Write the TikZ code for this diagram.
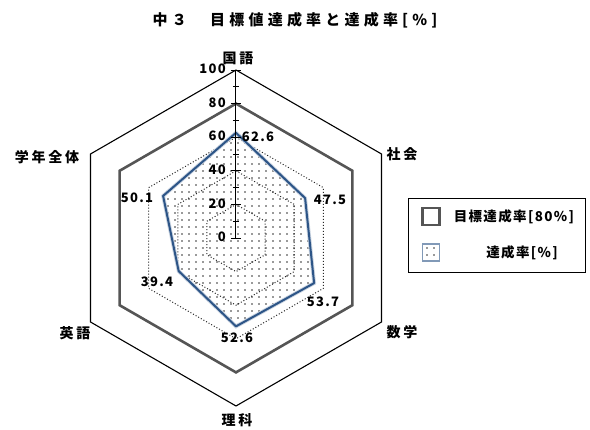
\documentclass[tikz,border=0pt]{standalone}
\usepackage{fontspec}
\setmainfont{Noto Sans CJK JP}
\newfontfamily\labelfont[LetterSpace=10]{Noto Sans CJK JP}
\newfontfamily\subjectfont[LetterSpace=20]{Noto Sans CJK JP}
\newfontfamily\titlefont[LetterSpace=28]{Noto Sans CJK JP}
\usetikzlibrary{positioning,patterns.meta}
\definecolor{targetgray}{RGB}{85,85,85}
\definecolor{rateblue}{RGB}{45,85,135}

\begin{document}
\begin{tikzpicture}[x=1pt, y=1pt,
        ring/.style={line width=1pt, dotted, black!85},
        outer/.style={line width=1.1pt},
        target/.style={line width=2.6pt, draw=targetgray},
        halo/.style={line width=3.8pt, draw=rateblue!25},
        rate/.style={line width=2pt, draw=rateblue, line join=round},
        dotfill/.style={pattern={Dots[distance=7pt, radius=0.85pt]}, pattern color=black!80},
        subject/.style={font=\subjectfont\bfseries\fontsize{14}{14}\selectfont, inner sep=1pt},
        value/.style={font=\labelfont\bfseries\fontsize{13}{13}\selectfont, inner sep=1pt},
        keytext/.style={font=\labelfont\bfseries\fontsize{13.5}{14}\selectfont, inner sep=1pt},
        keybox/.style={minimum size=17pt, inner sep=0pt}]
    \useasboundingbox (-236,-192) rectangle (354,238);
    \def\R{1.68}
    % data points
    \foreach \a/\v [count=\i] in {90/62.6, 30/47.5, -30/53.7, -90/52.6, -150/39.4, 150/50.1}
        \coordinate (p\i) at (\a:{\v*\R});
    \coordinate (c) at (0,0);
    % filled rate polygon
    \fill[dotfill] (p1) -- (p2) -- (p3) -- (p4) -- (p5) -- (p6) -- cycle;
    % grid rings
    \foreach \r in {20,40,60}
        \draw[ring] (90:{\r*\R}) -- (30:{\r*\R}) -- (-30:{\r*\R}) -- (-90:{\r*\R})
                    -- (-150:{\r*\R}) -- (150:{\r*\R}) -- cycle;
    \draw[target] (90:{80*\R}) -- (30:{80*\R}) -- (-30:{80*\R}) -- (-90:{80*\R})
                  -- (-150:{80*\R}) -- (150:{80*\R}) -- cycle;
    \draw[outer] (90:{100*\R}) -- (30:{100*\R}) -- (-30:{100*\R}) -- (-90:{100*\R})
                 -- (-150:{100*\R}) -- (150:{100*\R}) -- cycle;
    % rate line
    \draw[halo] (p1) -- (p2) -- (p3) -- (p4) -- (p5) -- (p6) -- cycle;
    \draw[rate] (p1) -- (p2) -- (p3) -- (p4) -- (p5) -- (p6) -- cycle;
    % axis with ticks
    \coordinate (top) at (0,{100*\R});
    \draw[line width=1pt] (c) -- (top);
    \foreach \t in {10,30,...,90}
        \draw[line width=0.8pt] (-3,{\t*\R}) -- (3,{\t*\R});
    \foreach \t in {0,20,...,100} {
        \draw[line width=0.9pt] (-5,{\t*\R}) -- (5,{\t*\R});
        \node[value, anchor=east] (scale\t) at (-9,{\t*\R+1}) {\t};
    }
    % subjects
    \node[subject] (kokugo) at (2,180) {国語};
    \node[subject] (shakai) at (166,84) {社会};
    \node[subject] (sugaku) at (166,-94) {数学};
    \node[subject] (rika) at (1,-182) {理科};
    \node[subject] (eigo) at (-161,-95) {英語};
    \node[subject] (zentai) at (-189,81) {学年全体};
    % values
    \node[value] (v1) at (22,101) {62.6};
    \node[value] (v2) at (94,38) {47.5};
    \node[value] (v3) at (87,-64) {53.7};
    \node[value] (v4) at (1,-100) {52.6};
    \node[value] (v5) at (-79,-44) {39.4};
    \node[value] (v6) at (-99,40) {50.1};
    % title
    \node[font=\titlefont\bfseries\fontsize{15}{15}\selectfont] (title) at (59,218)
        {中３　目標値達成率と達成率[\%]};
    % legend
    \node[draw, line width=0.9pt, minimum width=177pt, minimum height=74pt] (legend) at (260.5,3) {};
    \node[keybox, draw=targetgray, line width=2.2pt] (key1) at (195,21.5) {};
    \node[keytext, right=12pt of key1] (keytext1) {目標達成率[80\%]};
    \node[keybox, draw=rateblue!60, line width=1.4pt, dotfill] (key2) at (195,-14.5) {};
    \node[keytext] (keytext2) at (286,-15) {達成率[\%]};
\end{tikzpicture}
\end{document}
